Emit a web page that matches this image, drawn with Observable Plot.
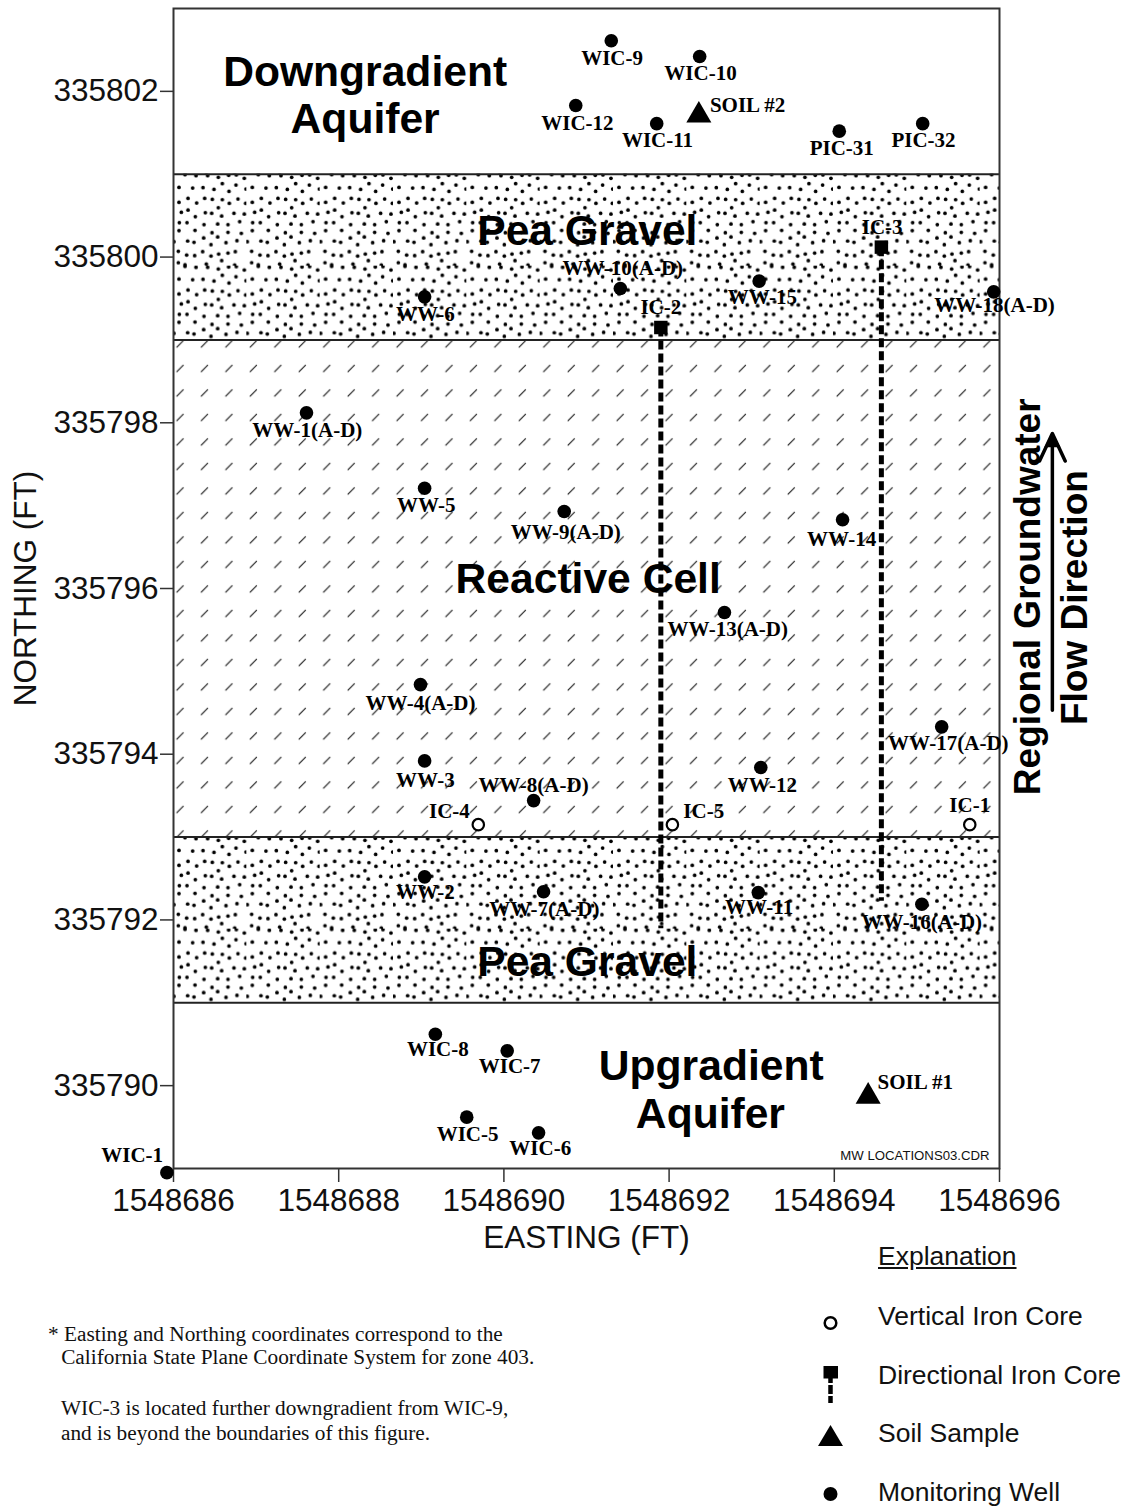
<!DOCTYPE html>
<html>
<head>
<meta charset="utf-8">
<script src="https://cdn.jsdelivr.net/npm/d3@7"></script>
<script src="https://cdn.jsdelivr.net/npm/@observablehq/plot@0.6"></script>
<style>
html,body{margin:0;padding:0;background:#fff}
#page{position:relative;width:1127px;height:1509px;overflow:hidden}
#page svg{display:block}
.note{position:absolute;font-family:"Liberation Serif",serif;font-size:21.3px;color:#111;white-space:pre;line-height:1}
.leg{position:absolute;font-family:"Liberation Sans",Arial,sans-serif;font-size:26.5px;color:#111;white-space:pre;line-height:1}
</style>
</head>
<body>
<div id="page"></div>
<script>
// Monitoring wells
const wellNames = ["WIC-9","WIC-10","WIC-12","WIC-11","PIC-31","PIC-32","WW-10","WW-15","WW-18","WW-6","WW-1","WW-5","WW-9","WW-14","WW-13","WW-4","WW-17","WW-3","WW-12","WW-8","WW-2","WW-7","WW-11","WW-16","WIC-8","WIC-7","WIC-5","WIC-6","WIC-1"];
const wellEasting = [1548691.30,1548692.37,1548690.87,1548691.85,1548694.06,1548695.07,1548691.41,1548693.09,1548695.93,1548689.04,1548687.61,1548689.04,1548690.73,1548694.10,1548692.67,1548688.99,1548695.30,1548689.04,1548693.11,1548690.36,1548689.04,1548690.48,1548693.08,1548695.06,1548689.17,1548690.04,1548689.55,1548690.42,1548685.92];
const wellNorthing = [335802.61,335802.42,335801.83,335801.61,335801.52,335801.61,335799.62,335799.71,335799.58,335799.52,335798.12,335797.21,335796.93,335796.83,335795.71,335794.84,335794.33,335793.92,335793.84,335793.44,335792.52,335792.34,335792.33,335792.19,335790.62,335790.42,335789.62,335789.43,335788.95];
// Vertical iron cores
const verticalEasting = [1548689.69,1548692.04,1548695.64];
const verticalNorthing = [335793.15,335793.15,335793.15];
// Directional iron cores: head and far end
const directionalEasting = [1548691.90,1548694.57];
const directionalNorthing = [335799.15,335800.12];
const directionalEndNorthing = [335791.90,335792.23];
// Soil samples
const soilEasting = [1548692.36,1548694.41];
const soilNorthing = [335801.71,335789.87];
// Point labels
const labelText = ["WIC-9","WIC-10","WIC-12","WIC-11","SOIL #2","PIC-31","PIC-32","IC-3","WW-10(A-D)","WW-15","WW-18(A-D)","IC-2","WW-6","WW-1(A-D)","WW-5","WW-9(A-D)","WW-14","WW-13(A-D)","WW-4(A-D)","WW-17(A-D)","WW-3","WW-12","WW-8(A-D)","IC-4","IC-5","IC-1","WW-2","WW-7(A-D)","WW-11","WW-16(A-D)","WIC-8","WIC-7","SOIL #1","WIC-5","WIC-6","WIC-1"];
const labelEasting = [1548691.31,1548692.38,1548690.89,1548691.86,1548692.95,1548694.09,1548695.08,1548694.58,1548691.44,1548693.13,1548695.94,1548691.90,1548689.05,1548687.62,1548689.06,1548690.75,1548694.09,1548692.71,1548688.99,1548695.38,1548689.05,1548693.13,1548690.36,1548689.34,1548692.42,1548695.64,1548689.05,1548690.49,1548693.09,1548695.06,1548689.20,1548690.07,1548694.98,1548689.56,1548690.44,1548685.50];
const labelNorthing = [335802.40,335802.22,335801.62,335801.41,335801.83,335801.31,335801.41,335800.36,335799.87,335799.51,335799.42,335799.39,335799.31,335797.91,335797.01,335796.68,335796.59,335795.51,335794.62,335794.13,335793.69,335793.63,335793.63,335793.31,335793.31,335793.38,335792.33,335792.13,335792.15,335791.97,335790.44,335790.23,335790.04,335789.41,335789.24,335789.16];
// Zones
const zoneNames = ["Downgradient","Aquifer","Pea Gravel","Reactive Cell","Pea Gravel","Upgradient","Aquifer"];
const zoneEasting = [1548688.32,1548688.32,1548691.01,1548691.02,1548691.01,1548692.51,1548692.50];
const zoneNorthing = [335802.23,335801.66,335800.31,335796.11,335791.49,335790.23,335789.65];
const bandLimits = [335801,335799,335793,335791];
const xTicks = [1548686,1548688,1548690,1548692,1548694,1548696];
const yTicks = [335790,335792,335794,335796,335798,335800,335802];
// Explanation and notes
const legendItems = ["Vertical Iron Core","Directional Iron Core","Soil Sample","Monitoring Well"];
const noteLines = ["* Easting and Northing coordinates correspond to the","  California State Plane Coordinate System for zone 403.","WIC-3 is located further downgradient from WIC-9,","and is beyond the boundaries of this figure."];
// Gravel texture tile (dot centres, in tile units)
const gravelX = [36,69,104,136,167,190,214,18,59,90,123,148,168,189,219,45,18,71,95,118,148,169,195,218,25,45,67,97,116,136,146,183,214,19,42,93,134,165,200,18,66,117,134,165,205,92,44,63,3,114,159,192,16,41,65,89,114,137,165,187,16,36,100,146,185];
const gravelY = [2,5,5,10,4,3,13,40,42,41,46,29,52,33,45,73,85,87,73,76,77,88,75,88,115,108,128,116,118,101,126,118,120,146,146,152,150,152,143,170,169,176,189,175,178,192,201,205,203,212,206,200,232,243,245,233,246,240,237,233,266,272,270,260,273];

const wells = wellNames.map((n,i)=>({n,x:wellEasting[i],y:wellNorthing[i]}));
const verticals = verticalEasting.map((x,i)=>({x,y:verticalNorthing[i]}));
const directionals = directionalEasting.map((x,i)=>({x,y:directionalNorthing[i],y2:directionalEndNorthing[i]}));
const soils = soilEasting.map((x,i)=>({x,y:soilNorthing[i]}));
const labels = labelText.map((t,i)=>({t,x:labelEasting[i],y:labelNorthing[i]}));
const zones = zoneNames.map((t,i)=>({t,x:zoneEasting[i],y:zoneNorthing[i]}));

const ink = "#111";
const sans = '"Liberation Sans",Arial,sans-serif';
const serif = '"Liberation Serif",serif';

const chart = Plot.plot({
  width:1127, height:1254, marginLeft:173, marginRight:128, marginTop:8, marginBottom:86,
  x:{domain:[1548686,1548696]}, y:{domain:[335789,335803]},
  style:{background:"#fff",color:ink,overflow:"visible"},
  marks:[
    Plot.rect([{y1:bandLimits[1],y2:bandLimits[0]}],{x1:1548686,x2:1548696,y1:"y1",y2:"y2",fill:"url(#gravelA)"}),
    Plot.rect([{y1:bandLimits[2],y2:bandLimits[1]}],{x1:1548686,x2:1548696,y1:"y1",y2:"y2",fill:"url(#hatch)"}),
    Plot.rect([{y1:bandLimits[3],y2:bandLimits[2]}],{x1:1548686,x2:1548696,y1:"y1",y2:"y2",fill:"url(#gravelB)"}),
    Plot.ruleY(bandLimits,{stroke:"#222",strokeWidth:2}),
    Plot.frame({stroke:"#333",strokeWidth:2}),
    Plot.axisX({ticks:xTicks,tickFormat:d=>`${d}`,tickSize:14,tickPadding:6,fontSize:31.5,fontFamily:sans,stroke:"#333",strokeWidth:1.5,label:"EASTING (FT)",labelAnchor:"center",labelArrow:"none",labelOffset:79}),
    Plot.axisY({ticks:yTicks,tickFormat:d=>`${d}`,tickSize:13,tickPadding:2,fontSize:31.5,fontFamily:sans,stroke:"#333",strokeWidth:1.5,label:"NORTHING (FT)",labelAnchor:"center",labelArrow:"none",labelOffset:160}),
    Plot.text(zones,{x:"x",y:"y",text:"t",fontFamily:sans,fontWeight:"bold",fontSize:42.6,fill:"#000"}),
    Plot.link(directionals,{x1:"x",x2:"x",y1:"y",y2:"y2",stroke:"#000",strokeWidth:5,strokeDasharray:"9 4"}),
    Plot.dot(directionals,{x:"x",y:"y",symbol:"square",r:7.6,fill:"#000"}),
    Plot.dot(soils,{x:"x",y:"y",symbol:"triangle",r:9.3,fill:"#000"}),
    Plot.dot(wells,{x:"x",y:"y",r:6.8,fill:"#000"}),
    Plot.dot(verticals,{x:"x",y:"y",r:5.7,fill:"#fff",stroke:"#000",strokeWidth:2.2}),
    Plot.text(labels,{x:"x",y:"y",text:"t",fontFamily:serif,fontWeight:"bold",fontSize:21,fill:"#000"}),
    Plot.text(["MW LOCATIONS03.CDR"],{x:[1548695.88],y:[335789.15],text:d=>d,textAnchor:"end",fontFamily:sans,fontSize:13.2,fill:ink}),
    Plot.text(["Regional Groundwater"],{x:[1548696.35],y:[335795.90],text:d=>d,rotate:-90,fontFamily:sans,fontWeight:"bold",fontSize:37,fill:"#000"}),
    Plot.text(["Flow Direction"],{x:[1548696.92],y:[335795.89],text:d=>d,rotate:-90,fontFamily:sans,fontWeight:"bold",fontSize:37,fill:"#000"}),
    Plot.arrow([0],{x1:1548696.64,x2:1548696.64,y1:335794.53,y2:335797.87,bend:0,stroke:"#000",strokeWidth:3.5,headLength:13,headAngle:50}),
    Plot.dot([0],{x:[1548696.64],y:[335797.76],symbol:"triangle",r:6,fill:"#000"})
  ]
});

// Texture definitions
const defs = d3.select(chart).append("defs");
function gravel(id,oy){
  const p = defs.append("pattern").attr("id",id).attr("patternUnits","userSpaceOnUse")
    .attr("x",173).attr("y",oy).attr("width",73.33).attr("height",91.67);
  gravelX.forEach((gx,i)=>p.append("circle").attr("cx",gx/3).attr("cy",gravelY[i]/3).attr("r",1.85).attr("fill","#000"));
}
gravel("gravelA",174); gravel("gravelB",837);
const h = defs.append("pattern").attr("id","hatch").attr("patternUnits","userSpaceOnUse")
  .attr("x",168).attr("y",356).attr("width",24.45).attr("height",24.5);
h.append("line").attr("x1",8.5).attr("y1",16).attr("x2",15.5).attr("y2",9).attr("stroke","#111").attr("stroke-width",1.1);

const page = document.getElementById("page");
page.appendChild(chart);

// Notes
[[48,1324,0],[50.5,1347,1],[61,1398,2],[61,1423,3]].forEach(([l,t,i])=>{
  const d=document.createElement("div");d.className="note";d.style.left=l+"px";d.style.top=t+"px";d.textContent=noteLines[i];page.appendChild(d);
});
// Explanation
const ex=document.createElement("div");ex.className="leg";ex.style.left="878px";ex.style.top="1243px";ex.style.textDecoration="underline";ex.textContent="Explanation";page.appendChild(ex);
[1303,1362,1420,1479].forEach((t,i)=>{
  const d=document.createElement("div");d.className="leg";d.style.left="878px";d.style.top=t+"px";d.textContent=legendItems[i];page.appendChild(d);
});
const key=d3.select(page).append("svg").attr("width",60).attr("height",220)
  .style("position","absolute").style("left","800px").style("top","1300px");
key.append("circle").attr("cx",30.5).attr("cy",23).attr("r",5.8).attr("fill","#fff").attr("stroke","#000").attr("stroke-width",2.5);
key.append("rect").attr("x",23.5).attr("y",66).attr("width",14.5).attr("height",12.5).attr("fill","#000");
key.append("line").attr("x1",30.5).attr("x2",30.5).attr("y1",78).attr("y2",103).attr("stroke","#000").attr("stroke-width",4.5).attr("stroke-dasharray","5 2 9 2 8");
key.append("path").attr("d","M30.5 125L43 146H18Z").attr("fill","#000");
key.append("circle").attr("cx",30.5).attr("cy",194).attr("r",7).attr("fill","#000");
</script>
</body>
</html>
